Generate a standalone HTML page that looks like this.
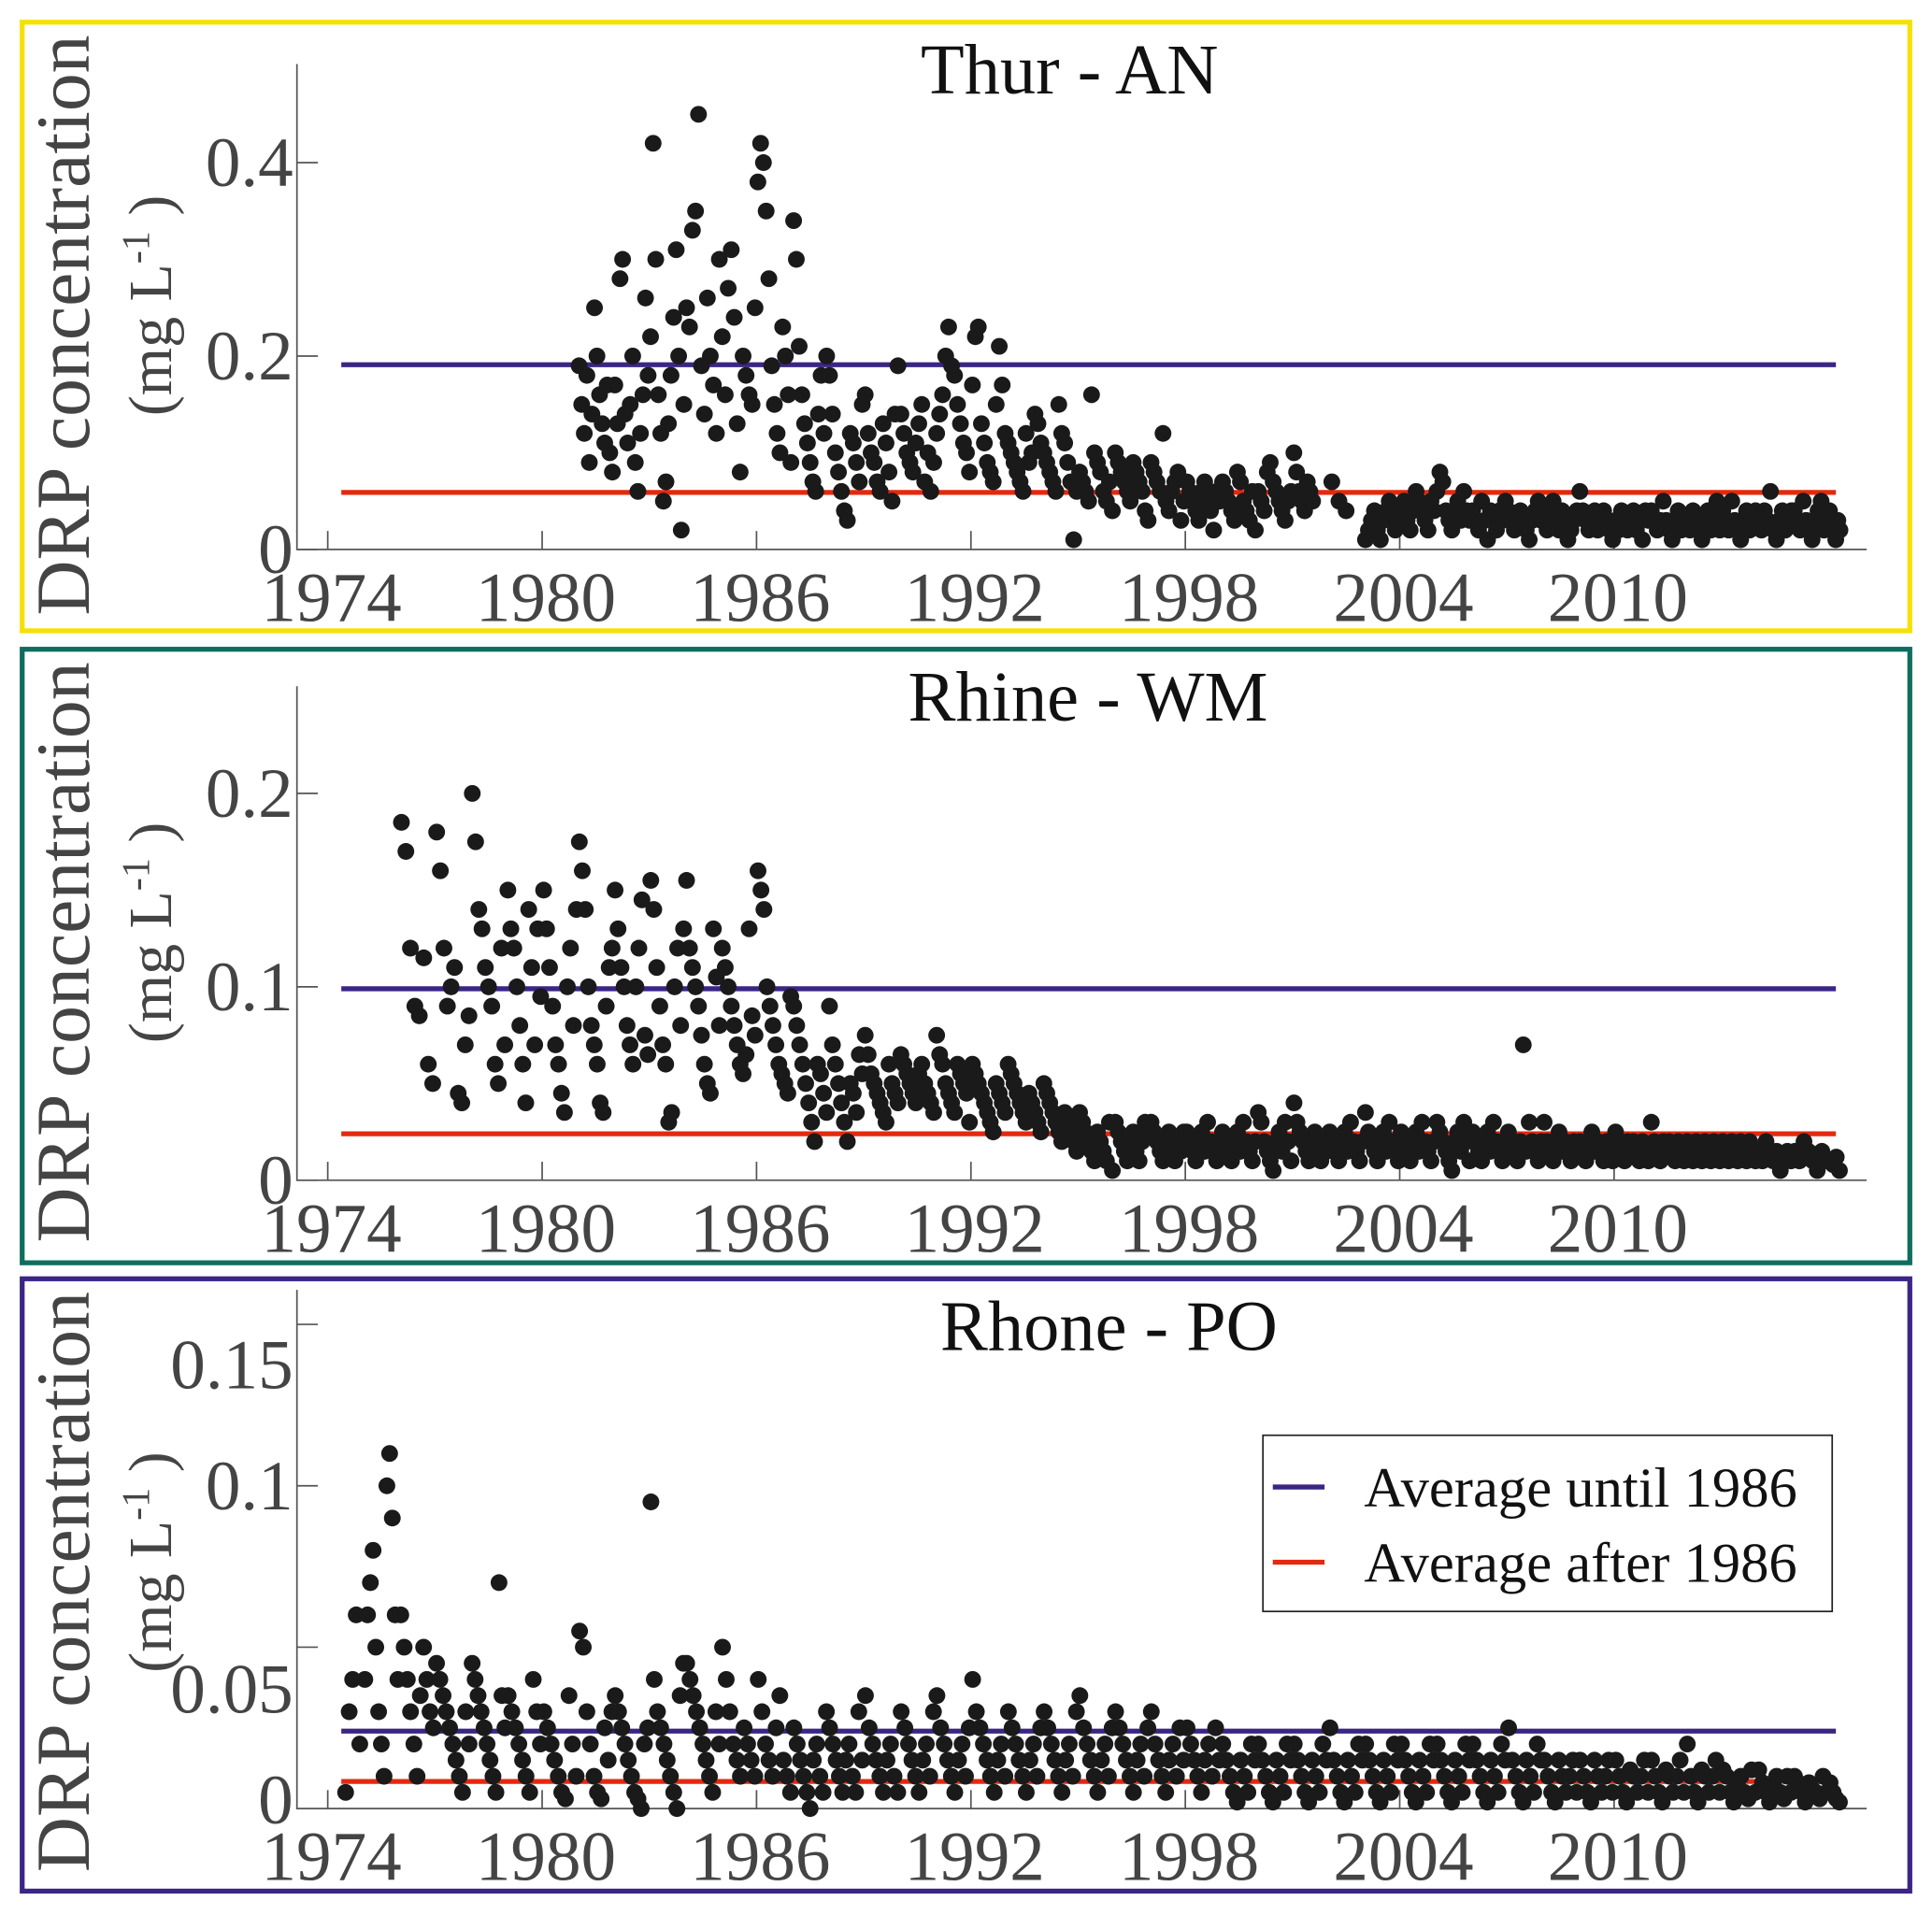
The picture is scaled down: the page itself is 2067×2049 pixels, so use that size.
<!DOCTYPE html>
<html><head><meta charset="utf-8"><title>DRP concentration</title>
<style>html,body{margin:0;padding:0;background:#fff;}svg{display:block;}svg text{font-family:"Liberation Serif","Times New Roman",serif;}</style></head>
<body>
<svg id="fig" xmlns="http://www.w3.org/2000/svg" width="2067" height="2049" viewBox="0 0 1568 1554.4" preserveAspectRatio="none"></svg>
<script>
// ---------- data (values in µg/L, i.e. mg/L * 1000), samples spread across each year ----------
const thurYears = [1981,1982,1983,1984,1985,1986,1987,1988,1989,1990,1991,1992,1993,1994,1995,1996,1997,1998,1999,2000,2001,2002,2003,2004,2005,2006,2007,2008,2009,2010,2011,2012,2013,2014,2015,2016];
const thurValues = [
[190,150,120,180,90,140,250,200,160,130,110,170,100,80],
[170,130,280,300,140,110,150,200,90,60,120,160,260,180],
[220,420,300,160,120,50,70,130,180,240,310,200,20,150],
[250,230,330,350,450,190,140,260,200,170,120,300],
[220,160,270,310,240,130,80,200,180,160,150,250],
[380,420,400,350,280,190,150,120,100,230,200,160,90],
[340,300,210,160,130,110,90,70,60,140,180,120,200],
[180,140,100,80,60,40,30,120,110,90,70,150],
[160,120,100,90,70,60,130,110,80,50,140,190],
[140,120,100,90,80,110,130,150,70,100,60,90],
[120,140,160,200,230,190,180,150,130,110,100,80],
[170,220,230,130,110,90,80,70,150,210,170,120],
[110,100,90,80,70,60,120,90,100,140,130,110],
[100,90,80,70,60,150,120,110,90,70,10,60],
[80,70,60,50,160,100,90,80,60,50,70,40],
[100,90,80,70,60,50,90,80,70,60,40,30],
[90,80,70,60,120,50,40,60,70,80,30,50],
[70,60,50,40,30,60,70,50,40,20,60,50],
[70,60,50,40,30,80,70,50,40,30,60,20],
[60,50,40,80,90,70,60,50,40,30,50,60],
[100,80,60,50,40,70,60,50],
[70,50,40],
[10,20,30,40,20,10,30,40,50,30,20,40],
[40,50,30,20,40,60,50,40,30,20,50,40],
[60,80,70,40,30,20,40,50,30,60,40,30],
[40,30,20,50,30,10,40,30,20,40,30,50],
[40,30,20,30,40,30,20,10,30,40,50,30],
[30,20,40,50,30,20,40,30,10,20,30,40],
[60,40,30,20,30,40,20,30,40,30,20,10],
[30,20,40,30,20,30,40,20,30,10,40,30],
[40,30,20,30,50,30,20,10,30,40,20,30],
[30,20,40,30,20,10,30,40,20,30,50,20],
[40,30,20,50,30,20,10,30,40,20,30,40],
[30,20,40,30,60,20,10,30,40,20,30,40],
[40,30,20,50,30,20,10,30,40,50,20,30],
[40,30,20,10,30,20]];
const thurSpan = [1,1,1,1,1,1,1,1,1,1,1,1,1,1,1,1,1,1,1,1,0.6,0.6,1,1,1,1,1,1,1,1,1,1,1,1,1,0.35];
const thurAverages = [191, 59];

const rhineYears = [1976,1977,1978,1979,1980,1981,1982,1983,1984,1985,1986,1987,1988,1989,1990,1991,1992,1993,1994,1995,1996,1997,1998,1999,2000,2001,2002,2003,2004,2005,2006,2007,2008,2009,2010,2011,2012,2013,2014,2015,2016];
const rhineValues = [
[185,170,120,90,85,115,60,50],
[180,160,120,90,100,110,45,40,70,85],
[200,175,140,130,110,100,90,60,50,120,70],
[150,130,120,100,80,60,40,140,110,70,130,95],
[150,130,110,90,70,60,45,35,100,120,80,140],
[175,160,140,100,80,70,60,40,35,90,110,120],
[150,130,110,100,80,70,60,100,120,145,75,65],
[155,140,110,90,70,60,30,35,100,120,80,130],
[155,120,110,100,90,75,60,50,45,130,105,80],
[120,110,100,90,80,70,60,55,65,130,85,75],
[160,150,140,100,90,80,70,60,55,50,45,95],
[90,80,70,60,50,40,30,20,60,55,45,35],
[90,70,60,50,40,30,20,50,45,35,65,55],
[75,65,55,50,45,40,35,30,60,50,45,40],
[65,60,55,50,45,40,55,60,50,45,40,35],
[75,65,60,50,45,40,35,60,55,50,45,30],
[60,55,50,45,40,35,30,25,50,45,40,35],
[60,55,50,45,40,35,30,45,40,35,30,25],
[50,45,40,35,30,25,20,35,30,25,20,15],
[35,30,25,20,15,10,25,20,15,10,30,5],
[30,25,20,15,10,20,25,15,10,20,30,25],
[30,25,20,15,10,20,25,15,10,20,15,25],
[25,20,15,10,20,25,15,30,20,15,10,20],
[25,20,15,10,20,25,15,30,20,15,10,20],
[35,30,20,15,10,5,20,25,15,30,20,10],
[40,30,25,20,15,10,20,25,15,10,20,15],
[25,20,15,10,20,25,15,30,20,15,10,20],
[35,25,20,15,10,20,25,15,30,20,15,10],
[25,20,15,10,20,25,15,30,20,15,10,20],
[30,25,20,15,10,5,20,25,15,30,20,10],
[25,20,15,10,20,25,15,30,20,15,10,20],
[25,20,15,10,20,70,15,30,20,15,10,20],
[30,20,15,10,20,25,15,20,15,10,20,15],
[20,15,10,20,25,15,20,15,10,20,15,10],
[25,20,15,10,20,15,20,15,10,20,15,10],
[30,20,15,10,20,15,20,15,10,20,15,10],
[20,15,10,20,15,10,20,15,10,20,15,10],
[20,15,10,20,15,10,20,15,10,20,15,10],
[15,10,20,15,10,15,5,10,15,10],
[15,10,20,15,10,5,15,10],
[10,8,12,5]];
const rhineSpan = [1,1,1,1,1,1,1,1,1,1,1,1,1,1,1,1,1,1,1,1,1,1,1,1,1,1,1,1,1,1,1,1,1,1,1,1,1,1,1,1,0.35];
const rhineAverages = [99, 24];

const rhoneYears = [1974,1975,1976,1977,1978,1979,1980,1981,1982,1983,1984,1985,1986,1987,1988,1989,1990,1991,1992,1993,1994,1995,1996,1997,1998,1999,2000,2001,2002,2003,2004,2005,2006,2007,2008,2009,2010,2011,2012,2013,2014,2015,2016];
const rhoneValues = [
[5,30,40,60,20],
[40,60,70,80,50,30,20,10,100,110,90,60,40],
[60,50,40,30,20,10,35,50,40,30,25],
[45,40,35,30,25,20,15,10,5,30,20],
[45,40,35,30,25,20,15,10,5,70,35,25],
[35,30,25,20,15,10,5,40,30,20],
[30,25,20,15,10,5,3,35,20,10],
[55,50,30,20,10,5,3,25,15,30],
[35,30,25,20,15,10,5,3,0,20,25],
[95,40,30,25,20,15,10,5,0,35,45],
[45,40,35,30,25,20,15,10,5,30,20],
[50,40,30,20,15,10,25,20,15,10],
[40,30,20,15,10,25,35,15,10,5],
[25,20,15,10,5,0,15,20,10,5,30],
[25,20,15,10,5,15,20,10,5,30,15],
[35,25,20,15,10,5,15,20,10,5],
[30,25,20,15,10,5,15,20,10,30],
[35,25,20,15,10,5,15,20,10,25],
[40,30,25,20,15,10,5,15,20,10],
[30,25,20,15,10,5,15,20,10,25],
[30,25,20,15,10,5,15,20,10,30],
[35,25,20,15,10,5,15,20,10,25],
[30,25,20,15,10,5,15,20,10,25],
[30,20,15,10,5,15,20,10,25,15],
[25,20,15,10,5,15,20,10,25,15],
[20,15,10,5,2,15,10,5,20,15],
[20,15,10,5,2,15,10,5,20,15],
[20,15,10,5,2,15,10,5,20,15],
[25,15,10,5,2,15,10,5,20,15],
[20,15,10,5,2,15,10,5,20,15],
[20,15,10,5,2,15,10,5,20,15],
[20,15,10,5,2,15,10,5,20,15],
[20,15,10,5,2,15,10,5,20,15],
[25,15,10,5,2,15,10,5,20,15],
[15,10,5,2,15,10,5,10,15,5],
[15,10,5,2,15,10,5,10,15,5],
[15,10,5,2,12,10,5,10,15,5],
[15,10,5,2,12,10,5,10,15,5],
[20,10,5,2,12,10,5,10,15,5],
[12,10,5,2,8,10,5,3,12,5],
[12,8,5,2,8,10,5,3,10,5],
[10,8,5,2,8,6,5,3,10,5],
[8,5,3,2]];
const rhoneSpan = [0.9,1,1,1,1,1,1,1,1,1,1,1,1,1,1,1,1,1,1,1,1,1,1,1,1,1,1,1,1,1,1,1,1,1,1,1,1,1,1,1,1,1,0.35];
const rhoneStart = [0.45];
const rhoneAverages = [24, 8.4];

const xTickYears = [1974,1980,1986,1992,1998,2004,2010];
const thurYTicks = [0, 0.2, 0.4];
const thurYLabels = ["0","0.2","0.4"];
const rhineYTicks = [0, 0.1, 0.2];
const rhineYLabels = ["0","0.1","0.2"];
const rhoneYTicks = [0.05, 0.1, 0.15];
const rhoneYLabels = ["0","0.05","0.1","0.15"];
const legendLabels = ["Average until 1986","Average after 1986"];

// ---------- drawing ----------
const NS = "http://www.w3.org/2000/svg";
const svg = document.getElementById('fig');
function mk(tag, attrs, parent){ const e=document.createElementNS(NS,tag); for(const k in attrs) e.setAttribute(k,attrs[k]); (parent||svg).appendChild(e); return e; }
const BLUE = "#3b2585", RED = "#e3290e";
const X0 = 266, PXY = 29;
function xScale(yr){ return X0 + (yr-1974)*PXY; }

function panel(cfg){
  const g = mk('g',{});
  
  
  const border = mk('rect',{x:18,y:cfg.top,width:1532,height:cfg.h,fill:'none',stroke:cfg.color,'stroke-width':4},g);
  
  
  const y0 = cfg.zero, yS = cfg.pxPerUnit;
  const yScale = v => y0 - v*yS;
  const ax = mk('path',{d:`M241 ${cfg.axTop} V${y0} H1515`,fill:'none',stroke:'#555','stroke-width':1.3},g);
  
  
  xTickYears.forEach(yr=>{
    const x = xScale(yr);
    const t = mk('line',{x1:x,x2:x,y1:y0,y2:y0-15,stroke:'#555','stroke-width':1.3},g);
    
    
    const l = mk('text',{x:x+3,y:y0+58,'text-anchor':'middle','font-size':57,fill:'#444'},g);
    l.textContent = yr;
    
    
  });
  cfg.yTicks.forEach(v=>{
    const t = mk('line',{x1:241,x2:258,y1:yScale(v),y2:yScale(v),stroke:'#555','stroke-width':1.3},g);
    
    
  });
  cfg.yLabels.forEach((s,i)=>{
    const l = mk('text',{x:238,y:cfg.yLabelPos[i]+19,'text-anchor':'end','font-size':57,fill:'#444'},g);
    l.textContent = s;
    
    
  });
  const a1 = mk('line',{x1:277,x2:1490,y1:yScale(cfg.avg[0]/1000),y2:yScale(cfg.avg[0]/1000),stroke:BLUE,'stroke-width':4},g);
  
  
  const a2 = mk('line',{x1:277,x2:1490,y1:yScale(cfg.avg[1]/1000),y2:yScale(cfg.avg[1]/1000),stroke:RED,'stroke-width':4},g);
  
  
  const pg = mk('g',{fill:'#1a1a1a'},g);
  
  
  cfg.years.forEach((yr,yi)=>{
    const vals = cfg.values[yi], n = vals.length, span = cfg.span[yi];
    const start = (yi===0 && cfg.start) ? cfg.start : 0;
    vals.forEach((v,i)=>{
      const x = xScale(yr + start + (i+0.5)/n*span*(1-start));
      const c = mk('circle',{cx:x.toFixed(1),cy:yScale(v/1000).toFixed(1),r:6.8},pg);
      
      
    });
  });
  const t = mk('text',{x:cfg.titleX,y:cfg.top+58,'text-anchor':'middle','font-size':58,fill:'#111'},g);
  t.textContent = cfg.title;
  
  
  const cy = cfg.top + 246;
  const yt = mk('text',{x:0,y:0,transform:`translate(72 ${cy}) rotate(-90)`,'text-anchor':'middle','font-size':62,fill:'#444'},g);
  yt.textContent = 'DRP concentration';
  
  
  const yu = mk('text',{x:0,y:0,transform:`translate(139 ${cy-16}) rotate(-90)`,'text-anchor':'middle','font-size':50,fill:'#444'},g);
  
  
  const s1 = mk('tspan',{},yu); s1.textContent='(mg L';
  const s2 = mk('tspan',{dy:-18,'font-size':32},yu); s2.textContent='-1';
  const s3 = mk('tspan',{dy:18},yu); s3.textContent=' )';
}

panel({name:'thur',title:'Thur - AN',titleX:868,top:18,h:494,color:'#f5e10a',zero:446,pxPerUnit:785,axTop:52,
  yTicks:thurYTicks,yLabels:thurYLabels,yLabelPos:thurYTicks.map(v=>446-v*785),avg:thurAverages,
  years:thurYears,values:thurValues,span:thurSpan});
panel({name:'rhine',title:'Rhine - WM',titleX:883,top:527,h:498,color:'#0f6e5e',zero:958,pxPerUnit:1570,axTop:557,
  yTicks:rhineYTicks,yLabels:rhineYLabels,yLabelPos:rhineYTicks.map(v=>958-v*1570),avg:rhineAverages,
  years:rhineYears,values:rhineValues,span:rhineSpan});
panel({name:'rhone',title:'Rhone - PO',titleX:900,top:1038,h:497,color:'#3b2585',zero:1468,pxPerUnit:2620,axTop:1047,
  yTicks:rhoneYTicks,yLabels:rhoneYLabels,yLabelPos:[1461,1371,1206,1108],avg:rhoneAverages,
  years:rhoneYears,values:rhoneValues,span:rhoneSpan,start:rhoneStart[0]});

const lg = mk('g',{});


mk('rect',{x:1025,y:1165,width:462,height:143,fill:'#fff',stroke:'#222','stroke-width':1.3},lg);
[BLUE,RED].forEach((col,i)=>{
  const y = 1207 + i*61;
  const ln = mk('line',{x1:1033,x2:1075,y1:y,y2:y,stroke:col,'stroke-width':4},lg);
  
  
  const tx = mk('text',{x:1107,y:y+16,'font-size':46,fill:'#111'},lg);
  tx.textContent = legendLabels[i];
  
  
});
</script>
</body></html>
